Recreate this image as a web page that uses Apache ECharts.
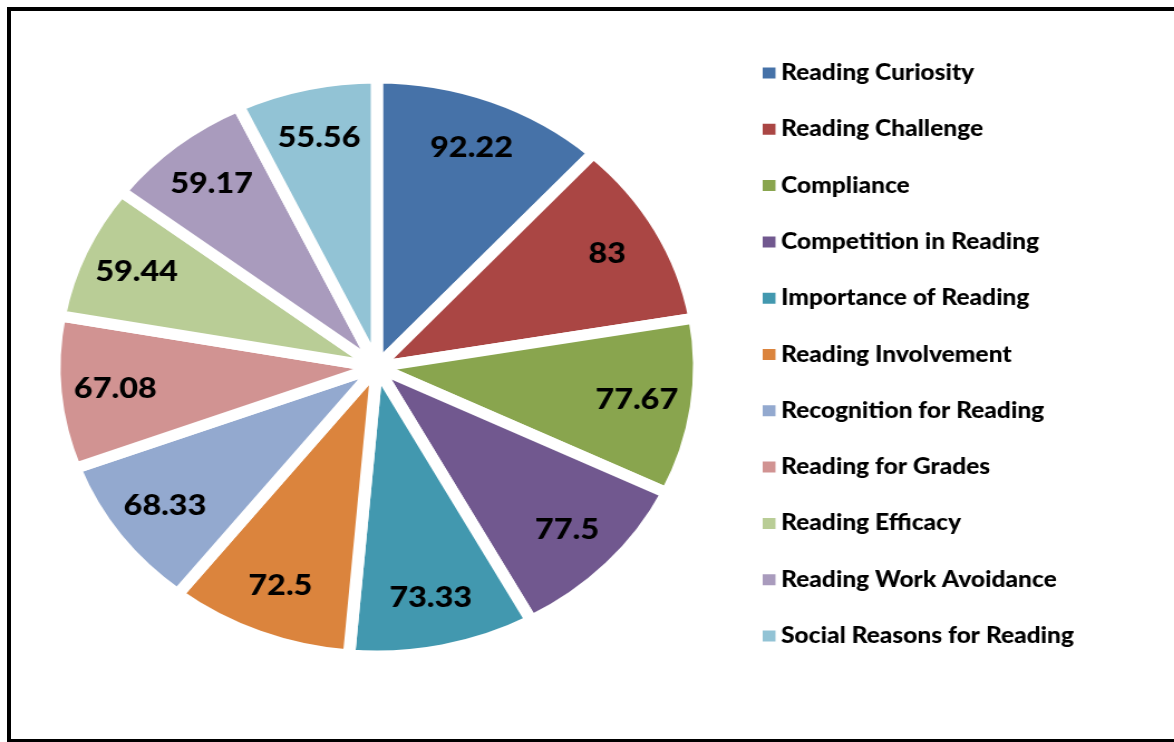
<!DOCTYPE html>
<html>
<head>
<meta charset="utf-8">
<script src="https://cdn.jsdelivr.net/npm/echarts@6/dist/echarts.min.js"></script>
<style>
  html, body { margin: 0; padding: 0; background: #fff; overflow: hidden; }
  #frame { position: absolute; left: 7px; top: 7px; width: 1200px; height: 728px; border: 4px solid #000; }
  #chart { position: absolute; left: 0; top: 0; width: 1053px; height: 742px; transform: scaleX(1.115); transform-origin: 0 0; }
</style>
</head>
<body>
<div id="frame"></div>
<div id="chart"></div>
<script>
// reading motivation dimensions, clockwise from 12 o'clock
const names = [
  'Reading Curiosity',
  'Reading Challenge',
  'Compliance',
  'Competition in Reading',
  'Importance of Reading',
  'Reading Involvement',
  'Recognition for Reading',
  'Reading for Grades',
  'Reading Efficacy',
  'Reading Work Avoidance',
  'Social Reasons for Reading'
]
const values = [92.22, 83, 77.67, 77.5, 73.33, 72.5, 68.33, 67.08, 59.44, 59.17, 55.56]
const colors = ['#4672A8', '#AA4644', '#89A54E', '#71588F', '#4298AF', '#DB843D', '#93A9CF', '#D19392', '#B9CD96', '#A99BBD', '#92C3D5']

const pieData = names.map((n, i) => ({ name: n, value: values[i] }))

const chart = echarts.init(document.getElementById('chart'))
chart.setOption({
  animation: false,
  color: colors,
  legend: {
    orient: 'vertical',
    left: 677,
    top: 57,
    data: names,
    icon: 'rect',
    itemWidth: 13.5,
    itemHeight: 13,
    itemGap: 34.3,
    textStyle: {
      fontFamily: 'Lato',
      fontWeight: 900,
      fontSize: 22,
      color: '#000',
      padding: [0, 0, 0, -1]
    }
  },
  series: [
    {
      name: 'slices',
      type: 'pie',
      center: [338, 367],
      radius: 289,
      startAngle: 90,
      clockwise: true,
      silent: true,
      label: { show: false },
      labelLine: { show: false },
      itemStyle: { borderColor: '#fff', borderWidth: 11 },
      data: pieData
    },
    {
      // ring only used to place the value labels further out
      name: 'labels',
      type: 'pie',
      center: [338, 367],
      radius: [176, 289],
      startAngle: 90,
      clockwise: true,
      silent: true,
      legendHoverLink: false,
      itemStyle: { color: 'transparent' },
      label: {
        show: true,
        position: 'inside',
        formatter: '{c}',
        fontFamily: 'Lato',
        fontWeight: 900,
        fontSize: 29,
        color: '#000'
      },
      labelLine: { show: false },
      data: pieData
    }
  ]
})
</script>
</body>
</html>
